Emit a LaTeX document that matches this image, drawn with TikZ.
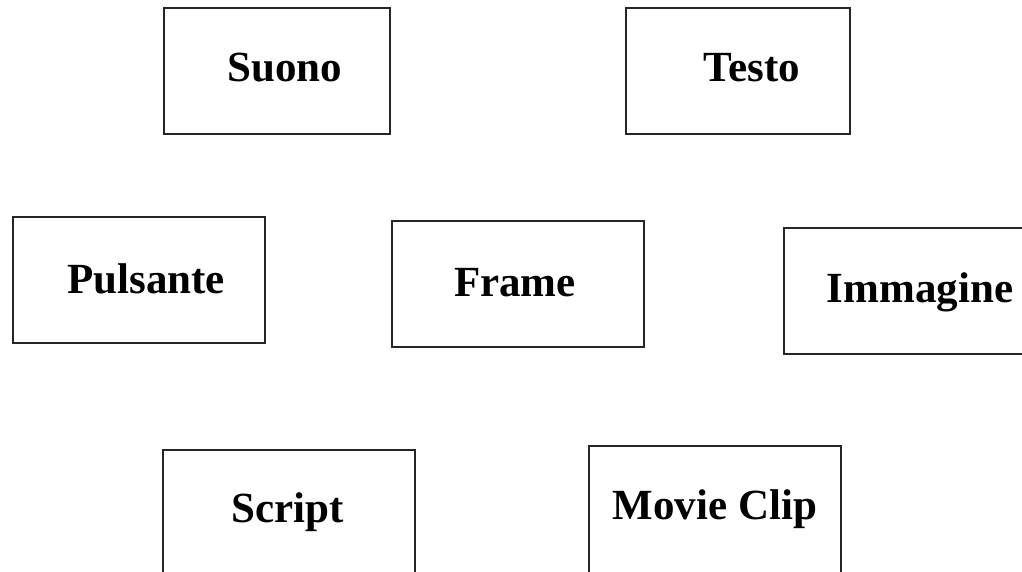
\documentclass[tikz,border=0pt]{standalone}
\usepackage{fontspec}
\setmainfont{Liberation Serif}
\begin{document}
\begin{tikzpicture}[x=1pt,y=-1pt,
  box/.style={draw=black!85,line width=1.6pt,inner sep=0pt,outer sep=0pt,minimum height=126pt},
  lbl/.style={anchor=base,inner sep=0pt,font=\fontsize{43}{50}\selectfont\bfseries}]
\useasboundingbox (0,0) rectangle (1022,572);
\clip (0,0) rectangle (1022,572);
\fill[white] (0,0) rectangle (1022,572);
% boxes
\node[box,minimum width=226pt] (suono) at (277,71) {};
\node[box,minimum width=224pt] (testo) at (738,71) {};
\node[box,minimum width=252pt] (pulsante) at (139,280) {};
\node[box,minimum width=252pt] (frame) at (518,284) {};
\node[box,minimum width=252pt] (immagine) at (910,291) {};
\node[box,minimum width=252pt] (script) at (289,513) {};
\node[box,minimum width=252pt,minimum height=127pt] (movie) at (715,509.5) {};
% labels
\node[lbl] (suonoT) at (285,82) {Suono};
\node[lbl] (testoT) at (752,82) {Testo};
\node[lbl] (pulsanteT) at (146,293) {Pulsante};
\node[lbl] (frameT) at (515,296) {Frame};
\node[lbl] (immagineT) at (920,302) {Immagine};
\node[lbl] (scriptT) at (288,522) {Script};
\node[lbl] (movieT) at (715,519) {Movie Clip};
\end{tikzpicture}
\end{document}
